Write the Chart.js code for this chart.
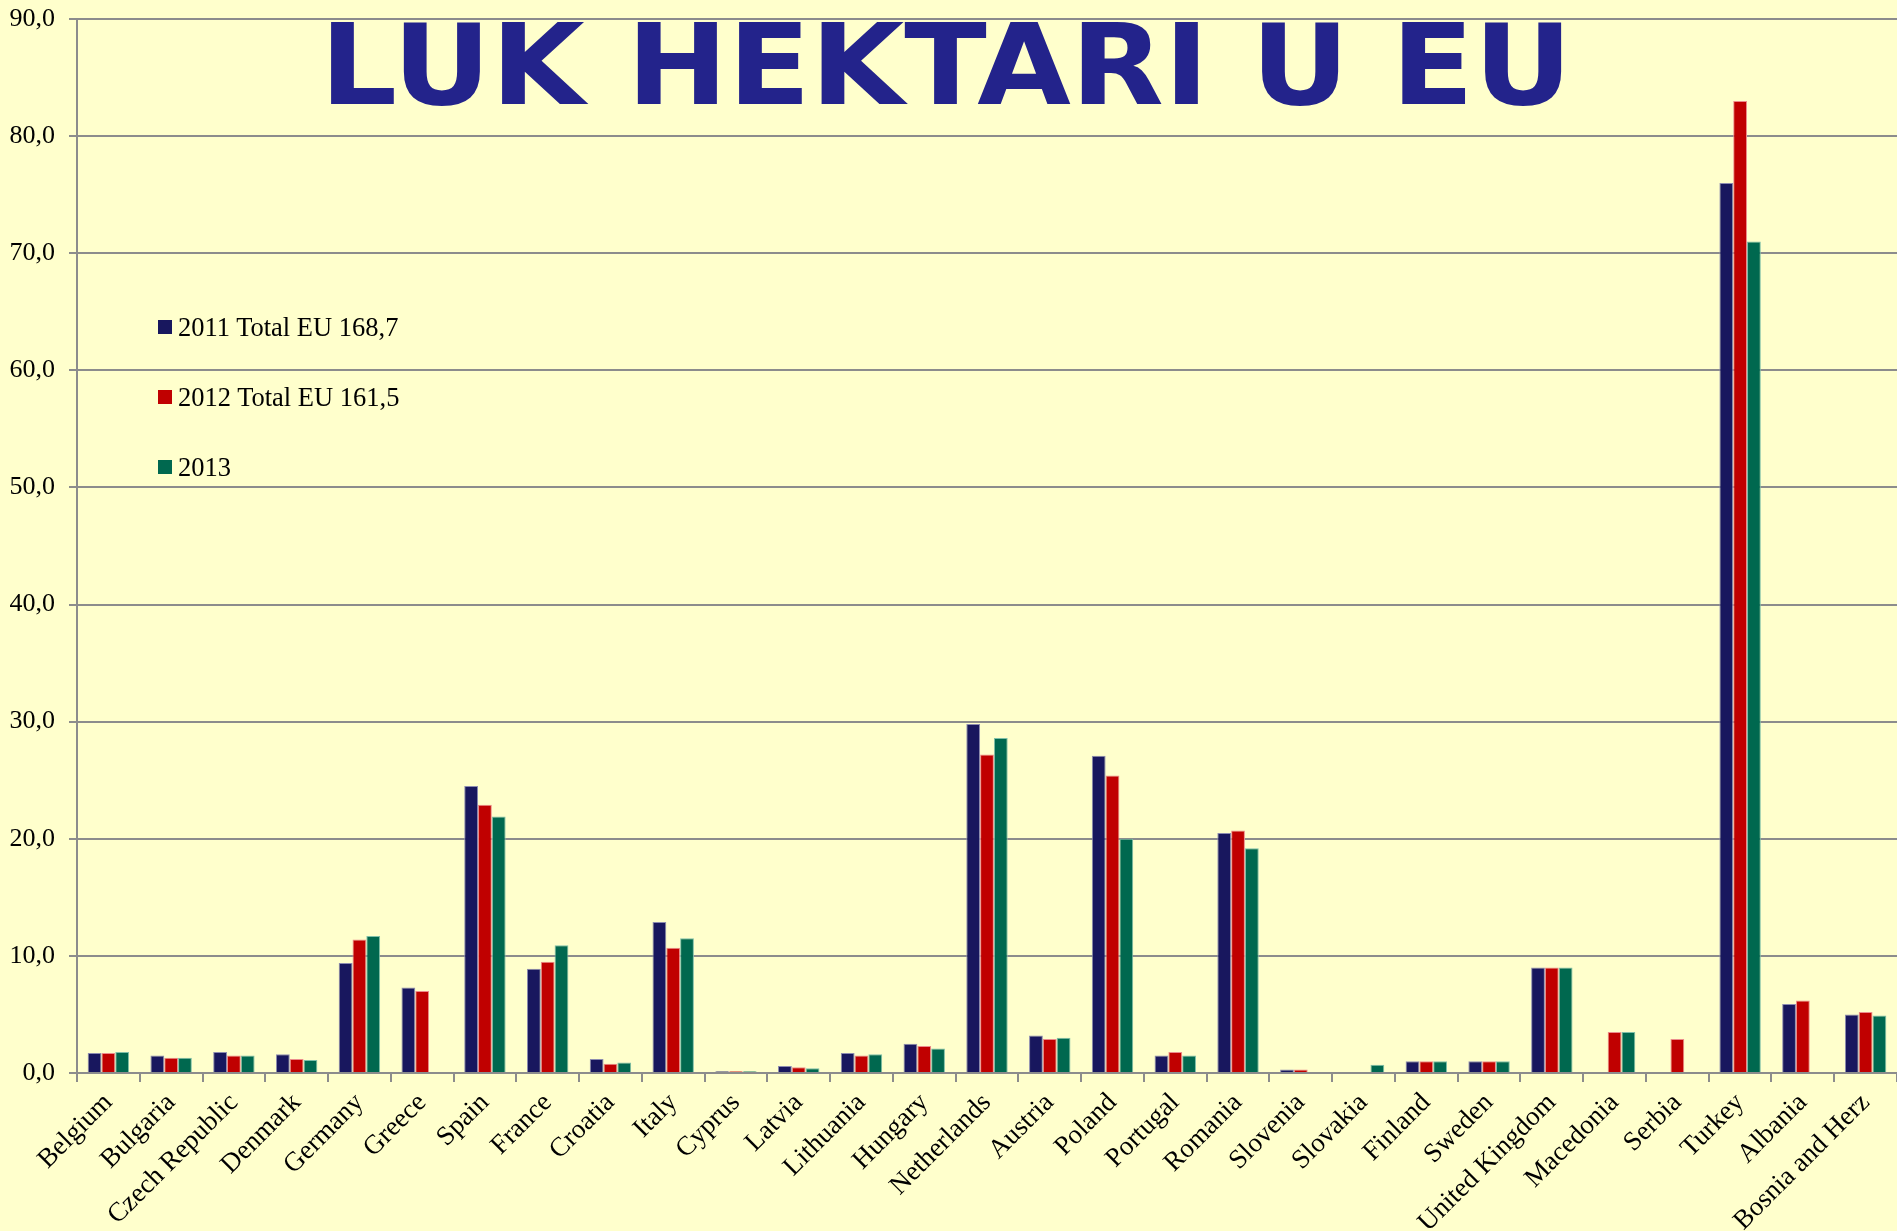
<!DOCTYPE html>
<html>
<head>
<meta charset="utf-8">
<script src="https://cdn.jsdelivr.net/npm/chart.js@4.4.1/dist/chart.umd.min.js"></script>
<style>
  html, body { margin: 0; padding: 0; background: #ffffcc; overflow: hidden; }
  #wrap { position: relative; width: 1897px; height: 1231px; }
  #title {
    position: absolute; left: 320px; top: 9px; margin: 0;
    font-family: 'DejaVu Sans', sans-serif; font-weight: bold; font-size: 113px;
    line-height: 1; color: #23238b; white-space: nowrap; z-index: 0;
    transform: scaleX(1.07); transform-origin: left top;
  }
  #chartBox { position: absolute; left: 0; top: 0; width: 1897px; height: 1231px; z-index: 1; }
  #legend { position: absolute; left: 158px; top: 310px; z-index: 2;
    font-family: 'Liberation Serif', 'Times New Roman', serif; font-size: 26.5px; color: #000; }
  .item { position: absolute; left: 0; white-space: nowrap; display: flex; align-items: center; height: 34px; }
  .box { width: 14px; height: 14px; margin-right: 6px; }
</style>
</head>
<body>
<div id="wrap">
  <h1 id="title">LUK HEKTARI U EU</h1>
  <div id="chartBox"><canvas id="c"></canvas></div>
  <div id="legend"></div>
</div>
<script>
const categories = ['Belgium','Bulgaria','Czech Republic','Denmark','Germany','Greece','Spain','France','Croatia','Italy','Cyprus','Latvia','Lithuania','Hungary','Netherlands','Austria','Poland','Portugal','Romania','Slovenia','Slovakia','Finland','Sweden','United Kingdom','Macedonia','Serbia','Turkey','Albania','Bosnia and Herz'];
const seriesNames = ['2011 Total EU 168,7', '2012 Total EU 161,5', '2013'];
const values2011 = [1.7,1.5,1.8,1.6,9.4,7.3,24.5,8.9,1.2,12.9,0.15,0.6,1.7,2.5,29.8,3.2,27.1,1.5,20.5,0.3,null,1.0,1.0,9.0,null,null,76.0,5.9,5.0];
const values2012 = [1.7,1.3,1.5,1.2,11.4,7.0,22.9,9.5,0.8,10.7,0.15,0.5,1.5,2.3,27.2,2.9,25.4,1.8,20.7,0.3,null,1.0,1.0,9.0,3.5,2.9,83.0,6.2,5.2];
const values2013 = [1.8,1.3,1.5,1.1,11.7,null,21.9,10.9,0.9,11.5,0.15,0.4,1.6,2.1,28.6,3.0,20.0,1.5,19.2,null,0.7,1.0,1.0,9.0,3.5,null,71.0,null,4.9];
const yTickLabels = ['0,0','10,0','20,0','30,0','40,0','50,0','60,0','70,0','80,0','90,0'];

const fills = ['#18175e', '#c00000', '#00684f'];
const edges = ['#8c8cb0', '#ec8c8c', '#7fbfa8'];
const allValues = [values2011, values2012, values2013];

const datasets = allValues.map((vals, i) => ({
  label: seriesNames[i],
  data: vals,
  backgroundColor: fills[i],
  borderColor: edges[i],
  borderWidth: 1,
  borderSkipped: 'start',
  categoryPercentage: 0.66,
  barPercentage: 1.0
}));

// HTML legend built from the series names
const legend = document.getElementById('legend');
seriesNames.forEach((name, i) => {
  const it = document.createElement('div');
  it.className = 'item';
  it.style.top = (i * 70) + 'px';
  const b = document.createElement('span');
  b.className = 'box';
  b.style.background = fills[i];
  const t = document.createElement('span');
  t.textContent = name;
  it.appendChild(b); it.appendChild(t);
  legend.appendChild(it);
});

const serif = 'Liberation Serif, Times New Roman, serif';

new Chart(document.getElementById('c'), {
  type: 'bar',
  data: { labels: categories, datasets },
  options: {
    responsive: true,
    maintainAspectRatio: false,
    animation: false,
    layout: { padding: { top: 4, right: 0, left: 0, bottom: 0 } },
    plugins: { legend: { display: false }, title: { display: false }, tooltip: { enabled: false } },
    scales: {
      x: {
        grid: { display: true, drawOnChartArea: false, drawTicks: true, tickLength: 9, color: '#8c8c8c', lineWidth: 2, offset: true },
        border: { display: true, color: '#8c8c8c', width: 2 },
        ticks: { color: '#000', font: { family: serif, size: 27 }, minRotation: 45, maxRotation: 45, autoSkip: false, padding: 5 },
        afterFit: (s) => { s.height = 158; s.paddingLeft = 0; s.paddingRight = 0; }
      },
      y: {
        min: 0, max: 90,
        grid: { color: '#8c8c8c', lineWidth: 2, tickLength: 8 },
        border: { display: true, color: '#8c8c8c', width: 2 },
        ticks: { stepSize: 10, color: '#000', padding: 14, font: { family: serif, size: 26 },
          callback: (v) => yTickLabels[Math.round(v / 10)] },
        afterFit: (s) => { s.width = 77; s.paddingTop = 19; s.paddingBottom = 19; }
      }
    }
  }
});
</script>
</body>
</html>
